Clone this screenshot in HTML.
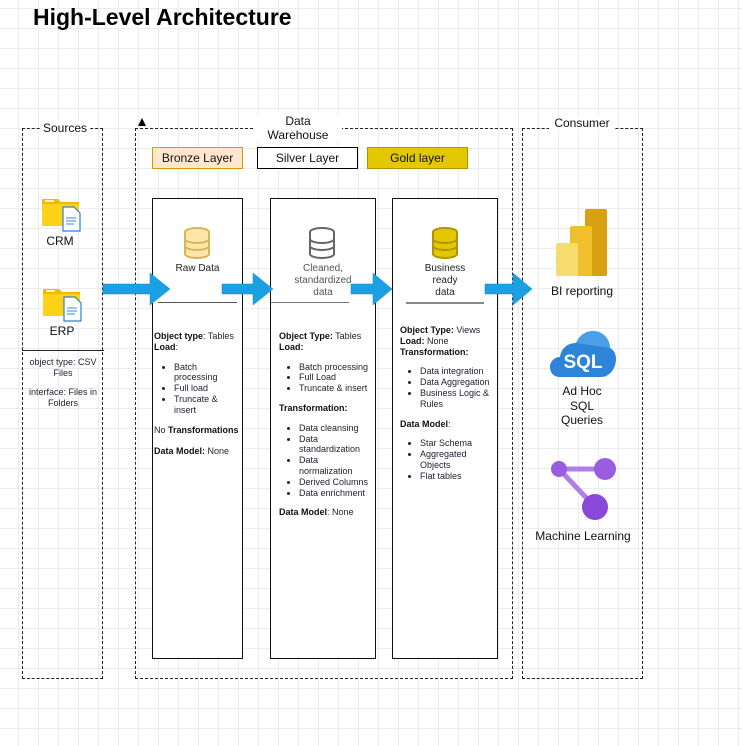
<!DOCTYPE html>
<html><head><meta charset="utf-8"><style>
*{margin:0;padding:0;box-sizing:border-box}
body{width:742px;height:746px;position:relative;overflow:hidden;background:#fff;font-family:"Liberation Sans",sans-serif;color:#111;
background-image:linear-gradient(#ececec 1px,transparent 1px),linear-gradient(90deg,#ececec 1px,transparent 1px);background-size:20px 20px;background-position:-2px 8px}
.a{position:absolute}
.dash{position:absolute;border:1px dashed #222}
.lbl{position:absolute;background:#fff;text-align:center;font-size:12px;line-height:14px}
.col{position:absolute;border:1px solid #111;background:#fff}
.txt{position:absolute;font-size:9px;line-height:10.8px;color:#223}
.txt ul{margin:9px 0 9px 0;padding-left:20px}
.txt p{margin:0}
b{color:#111}
.c{text-align:center}
</style></head><body>
<div class="a" style="left:33px;top:4px;font-size:23px;font-weight:bold;color:#000">High-Level Architecture</div>

<div class="dash" style="left:22px;top:128px;width:81px;height:551px"></div>
<div class="lbl" style="left:41px;top:121px;width:48px">Sources</div>
<div class="a" style="left:22px;top:350px;width:82px;height:1px;background:#222"></div>
<div class="a c" style="left:24px;top:357px;width:78px;font-size:9px;line-height:11px;color:#223">object type: CSV Files<br><div style="height:8px"></div>interface: Files in Folders</div>

<div class="dash" style="left:135px;top:128px;width:378px;height:551px"></div>
<div class="a" style="left:138px;top:118px;width:0;height:0;border-left:4px solid transparent;border-right:4px solid transparent;border-bottom:8px solid #000"></div>
<div class="lbl" style="left:254px;top:114px;width:88px;height:28px">Data<br>Warehouse</div>

<div class="dash" style="left:522px;top:128px;width:121px;height:551px"></div>
<div class="lbl" style="left:549px;top:116px;width:66px">Consumer</div>

<div class="a c" style="left:152px;top:147px;width:91px;height:22px;background:#ffe6cc;border:1px solid #d79b00;font-size:12px;line-height:20px">Bronze Layer</div>
<div class="a c" style="left:257px;top:147px;width:101px;height:22px;background:#fff;border:1px solid #000;font-size:12px;line-height:20px">Silver Layer</div>
<div class="a c" style="left:367px;top:147px;width:101px;height:22px;background:#e3c800;border:1px solid #b09500;font-size:12px;line-height:20px">Gold layer</div>

<div class="col" style="left:152px;top:198px;width:91px;height:461px"></div>
<div class="col" style="left:270px;top:198px;width:106px;height:461px"></div>
<div class="col" style="left:392px;top:198px;width:106px;height:461px"></div>

<svg class="a" style="left:182px;top:227px" width="30" height="32" viewBox="0 0 30 32"><g fill="#ffe6a8" stroke="#d6b656" stroke-width="2"><ellipse cx="15" cy="5" rx="12" ry="4"/><path d="M3 5v22c0 2.2 5.4 4 12 4s12-1.8 12-4V5" /><path d="M3 12c0 2.2 5.4 4 12 4s12-1.8 12-4M3 19c0 2.2 5.4 4 12 4s12-1.8 12-4" fill="none"/></g></svg>
<svg class="a" style="left:307px;top:227px" width="30" height="32" viewBox="0 0 30 32"><g fill="#fff" stroke="#666" stroke-width="2"><ellipse cx="15" cy="5" rx="12" ry="4"/><path d="M3 5v22c0 2.2 5.4 4 12 4s12-1.8 12-4V5"/><path d="M3 12c0 2.2 5.4 4 12 4s12-1.8 12-4M3 19c0 2.2 5.4 4 12 4s12-1.8 12-4" fill="none"/></g></svg>
<svg class="a" style="left:430px;top:227px" width="30" height="32" viewBox="0 0 30 32"><g fill="#e3c800" stroke="#b09500" stroke-width="2"><ellipse cx="15" cy="5" rx="12" ry="4"/><path d="M3 5v22c0 2.2 5.4 4 12 4s12-1.8 12-4V5"/><path d="M3 12c0 2.2 5.4 4 12 4s12-1.8 12-4M3 19c0 2.2 5.4 4 12 4s12-1.8 12-4" fill="none"/></g></svg>

<div class="a c" style="left:153px;top:263px;width:89px;font-size:10px;line-height:12px;color:#222">Raw Data</div>
<div class="a c" style="left:271px;top:263px;width:104px;font-size:10px;line-height:12px;color:#555">Cleaned,<br>standardized<br>data</div>
<div class="a c" style="left:393px;top:263px;width:104px;font-size:10px;line-height:12px;color:#222">Business<br>ready<br>data</div>

<div class="a" style="left:158px;top:302px;width:79px;height:1px;background:#555"></div>
<div class="a" style="left:271px;top:302px;width:78px;height:1px;background:#777"></div>
<div class="a" style="left:406px;top:302px;width:78px;height:2px;background:#888"></div>

<svg class="a" style="left:0;top:0" width="742" height="746">
<g fill="#1ba1e2" stroke="#1687c0" stroke-width="0.5">
<polygon points="103,284 150,284 150,273 170,289 150,305 150,294 103,294"/>
<polygon points="222,284 253,284 253,273 273,289 253,305 253,294 222,294"/>
<polygon points="351,284 373,284 373,273 392,289 373,305 373,294 351,294"/>
<polygon points="485,284 513,284 513,273 532,289 513,305 513,294 485,294"/>
</g></svg>

<div class="txt" style="left:154px;top:331px;width:88px">
<p><b>Object type</b>: Tables<br><b>Load</b>:</p>
<ul><li>Batch processing</li><li>Full load</li><li>Truncate &amp; insert</li></ul>
<p>No <b>Transformations</b></p><p style="margin-top:11px"><b>Data Model:</b> None</p></div>

<div class="txt" style="left:279px;top:331px;width:95px">
<p><b>Object Type:</b> Tables<br><b>Load:</b></p>
<ul><li>Batch processing</li><li>Full Load</li><li>Truncate &amp; insert</li></ul>
<p><b>Transformation:</b></p>
<ul><li>Data cleansing</li><li>Data standardization</li><li>Data normalization</li><li>Derived Columns</li><li>Data enrichment</li></ul>
<p><b>Data Model</b>: None</p></div>

<div class="txt" style="left:400px;top:325px;width:96px">
<p><b>Object Type:</b> Views<br><b>Load:</b> None<br><b>Transformation:</b></p>
<ul><li>Data integration</li><li>Data Aggregation</li><li>Business Logic &amp; Rules</li></ul>
<p><b>Data Model</b>:</p>
<ul><li>Star Schema</li><li>Aggregated Objects</li><li>Flat tables</li></ul></div>

<svg class="a" style="left:41px;top:196px" width="42" height="36" viewBox="0 0 42 36"><path d="M1 3h16l3 3h18v24H1z" fill="#f5b800"/><rect x="1" y="8" width="37" height="22" fill="#ffd21a"/><rect x="4" y="4" width="9" height="2" fill="#fff4b0"/><path d="M22 11h11l6 6v18H22z" fill="#fff" stroke="#2f7ed8" stroke-width="1.2"/><path d="M25 22h10M25 25h10M25 28h8" stroke="#5aa0e8" stroke-width="1.2"/></svg>
<div class="a c" style="left:30px;top:234px;width:60px;font-size:12px">CRM</div>
<svg class="a" style="left:42px;top:286px" width="42" height="36" viewBox="0 0 42 36"><path d="M1 3h16l3 3h18v24H1z" fill="#f5b800"/><rect x="1" y="8" width="37" height="22" fill="#ffd21a"/><rect x="4" y="4" width="9" height="2" fill="#fff4b0"/><path d="M22 11h11l6 6v18H22z" fill="#fff" stroke="#2f7ed8" stroke-width="1.2"/><path d="M25 22h10M25 25h10M25 28h8" stroke="#5aa0e8" stroke-width="1.2"/></svg>
<div class="a c" style="left:32px;top:324px;width:60px;font-size:12px">ERP</div>

<svg class="a" style="left:556px;top:208px" width="52" height="68" viewBox="0 0 52 68"><rect x="29" y="1" width="22" height="67" rx="2" fill="#d9a014"/><rect x="14" y="18" width="22" height="50" rx="2" fill="#f0c02c"/><rect x="0" y="35" width="22" height="33" rx="2" fill="#f6dc6e"/></svg>
<div class="a c" style="left:532px;top:284px;width:100px;font-size:12px">BI reporting</div>
<svg class="a" style="left:550px;top:331px" width="66" height="47" viewBox="0 0 66 47"><path d="M10 46C3 46 0 41 0 36c0-6 5-10 10-10 1-8 7-14 16-14 3-7 9-12 17-12 10 0 17 8 17 17 4 2 6 6 6 11 0 9-6 18-15 18z" fill="#2d84d8"/><path d="M26 12c3-7 9-12 17-12 10 0 17 8 17 17" fill="#5eb0f0" opacity=".6"/><text x="33" y="37" text-anchor="middle" font-family="Liberation Sans" font-weight="bold" font-size="19" fill="#fff">SQL</text></svg>
<div class="a c" style="left:540px;top:384px;width:84px;font-size:12px;line-height:14.5px">Ad Hoc<br>SQL<br>Queries</div>
<svg class="a" style="left:549px;top:457px" width="70" height="66" viewBox="0 0 70 66"><g stroke="#b07ee8" stroke-width="5"><line x1="10" y1="12" x2="55" y2="12"/><line x1="10" y1="12" x2="46" y2="50"/></g><circle cx="10" cy="12" r="8" fill="#9a5ce0"/><circle cx="56" cy="12" r="11" fill="#9a5ce0"/><circle cx="46" cy="50" r="13" fill="#8a48d8"/></svg>
<div class="a c" style="left:527px;top:529px;width:112px;font-size:12px">Machine Learning</div>
</body></html>
